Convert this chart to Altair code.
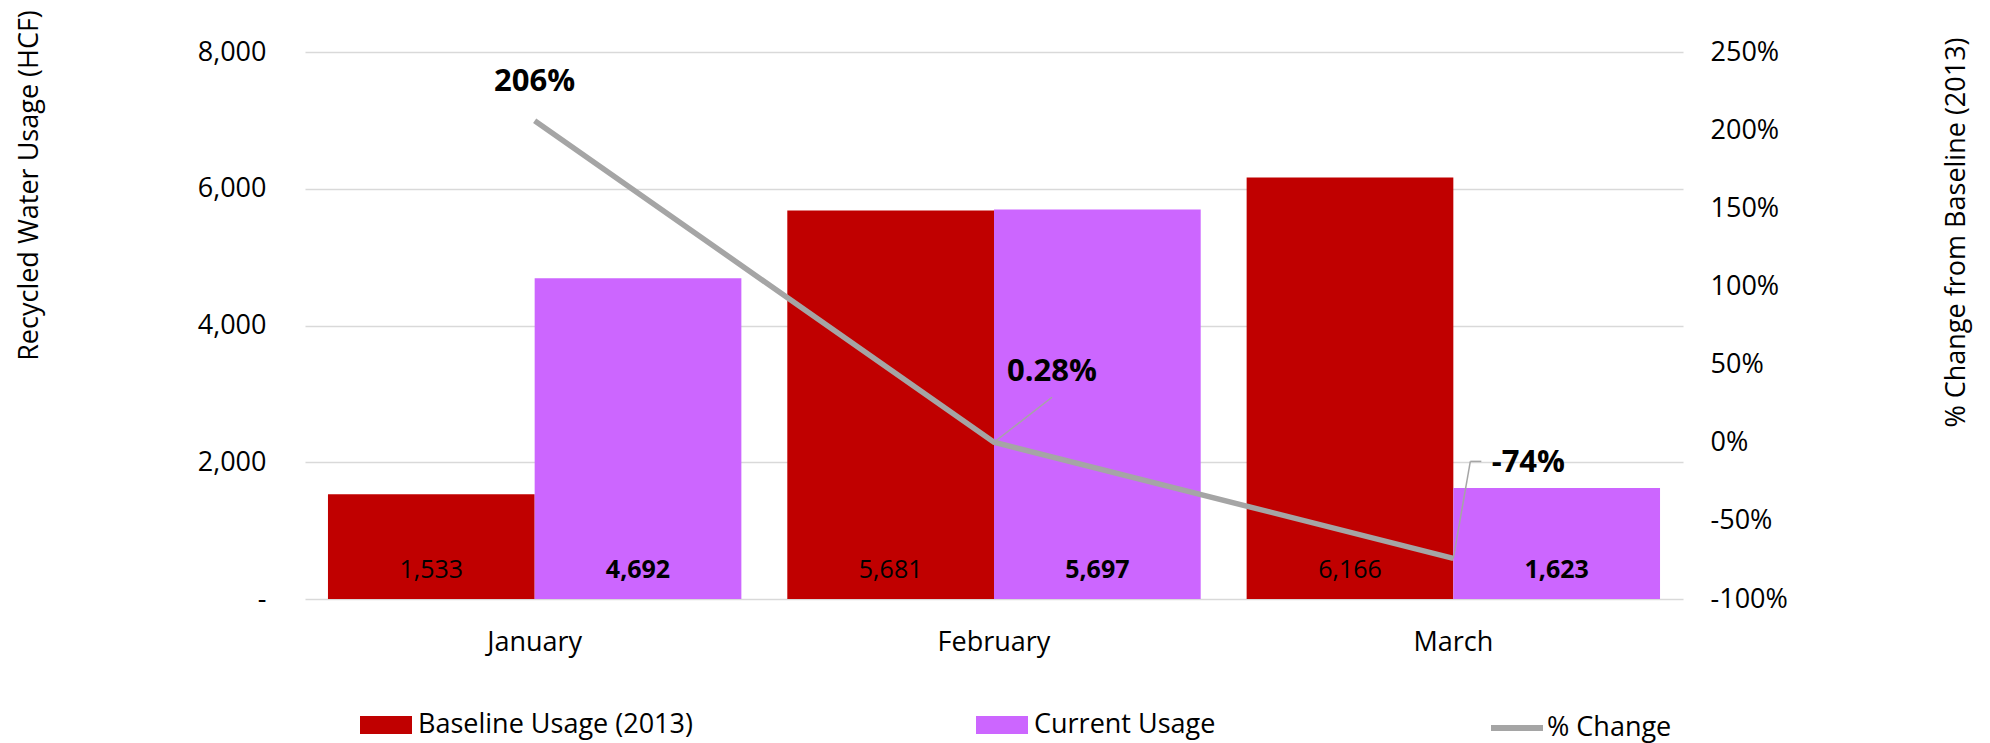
import altair as alt
import pandas as pd

FONT = "Open Sans"

months = ["January", "February", "March"]
series_names = ["Baseline Usage (2013)", "Current Usage"]
baseline = [1533, 5681, 6166]
current = [4692, 5697, 1623]
line_name = "% Change"
pct_change = [206, 0.28, -74]
pct_labels = ["206%", "0.28%", "-74%"]
left_ticks = [0, 2000, 4000, 6000, 8000]
right_ticks = [-100, -50, 0, 50, 100, 150, 200, 250]

bars_df = pd.DataFrame({
    "month": months * 2,
    "series": [series_names[0]] * 3 + [series_names[1]] * 3,
    "value": baseline + current,
})
line_df = pd.DataFrame({
    "month": months,
    "pct": pct_change,
    "label": pct_labels,
    "series": [line_name] * 3,
})

x_enc = alt.X(
    "month:N", sort=months,
    scale=alt.Scale(paddingInner=0.1, paddingOuter=0.05),
    axis=alt.Axis(title=None, labelAngle=0, domain=False, ticks=False,
                  labelPadding=30, labelFontSize=27),
)
xoff = alt.XOffset("series:N", sort=series_names,
                   scale=alt.Scale(paddingInner=0, paddingOuter=0))

y_left = alt.Y(
    "value:Q",
    scale=alt.Scale(domain=[0, 8000], nice=False),
    axis=alt.Axis(
        values=left_ticks,
        labelExpr="datum.value === 0 ? '-' : format(datum.value, ',')",
        title="Recycled Water Usage (HCF)",
        grid=True, gridColor="#D9D9D9", gridWidth=1.5,
        domain=False, ticks=False, labelPadding=39, labelFontSize=27,
        titleX=-276, titleY=133, titleAngle=270, titleAlign="center",
        titleBaseline="middle", titleFontSize=27,
    ),
)

bar_legend = alt.Legend(
    orient="none", legendX=55, legendY=647, direction="horizontal",
    title=None, symbolType="M-1,-0.346H1V0.346H-1Z", symbolSize=2704,
    symbolStrokeWidth=0, symbolOpacity=1, labelFont=FONT, labelFontSize=27,
    labelColor="black", labelOffset=6, columnPadding=283, padding=0,
    labelLimit=600,
)

bars = alt.Chart(bars_df).mark_bar().encode(
    x=x_enc,
    xOffset=xoff,
    y=y_left,
    color=alt.Color("series:N", sort=series_names,
                    scale=alt.Scale(domain=series_names, range=["#C00000", "#CC66FF"]),
                    legend=bar_legend),
)

bar_text_normal = alt.Chart(bars_df).transform_filter(
    alt.datum.series == series_names[0]
).mark_text(font=FONT, fontSize=25, baseline="middle", dy=-29, color="black").encode(
    x=x_enc, xOffset=xoff,
    y=alt.Y(datum=0, type="quantitative"),
    text=alt.Text("value:Q", format=","),
)
bar_text_bold = alt.Chart(bars_df).transform_filter(
    alt.datum.series == series_names[1]
).mark_text(font=FONT, fontSize=25, fontWeight="bold", baseline="middle", dy=-29,
            color="black").encode(
    x=x_enc, xOffset=xoff,
    y=alt.Y(datum=0, type="quantitative"),
    text=alt.Text("value:Q", format=","),
)

left = alt.layer(bars, bar_text_normal, bar_text_bold)

y_right = alt.Y(
    "pct:Q",
    scale=alt.Scale(domain=[-100, 250], nice=False),
    axis=alt.Axis(
        orient="right", values=right_ticks, labelExpr="datum.value + '%'",
        title="% Change from Baseline (2013)", grid=False, domain=False,
        ticks=False, labelPadding=27, labelFontSize=27, labelAlign="left",
        titleX=273, titleY=180, titleAngle=270, titleAlign="center",
        titleBaseline="middle", titleFontSize=27,
    ),
)

line_legend = alt.Legend(
    orient="none", legendX=1183, legendY=647, title=None,
    symbolType="stroke", symbolSize=2704, symbolStrokeWidth=6,
    labelFont=FONT, labelFontSize=27, labelColor="black", labelOffset=1,
    padding=0, labelLimit=600,
)

line = alt.Chart(line_df).mark_line(strokeWidth=5.5).encode(
    x=x_enc,
    y=y_right,
    stroke=alt.Stroke("series:N", scale=alt.Scale(domain=[line_name], range=["#A5A5A5"]),
                      legend=line_legend),
)

label_offsets = {"January": (0, -39), "February": (58, -70), "March": (75, -95)}
line_labels = []
for m in months:
    dx, dy = label_offsets[m]
    line_labels.append(
        alt.Chart(line_df).transform_filter(alt.datum.month == m).mark_text(
            font=FONT, fontSize=31, fontWeight="bold", baseline="middle",
            align="center", dx=dx, dy=dy, color="black",
        ).encode(x=x_enc, y=alt.Y("pct:Q"), text="label:N")
    )

leader_feb = alt.Chart(line_df).transform_filter(alt.datum.month == "February").mark_rule(
    color="#A5A5A5", strokeWidth=1.5, x2Offset=58, y2Offset=-45,
).encode(x=x_enc, x2="month:N", y=alt.Y("pct:Q"), y2="pct:Q")

leader_mar1 = alt.Chart(line_df).transform_filter(alt.datum.month == "March").mark_rule(
    color="#A5A5A5", strokeWidth=1.5, x2Offset=17, y2Offset=-97,
).encode(x=x_enc, x2="month:N", y=alt.Y("pct:Q"), y2="pct:Q")

leader_mar2 = alt.Chart(line_df).transform_filter(alt.datum.month == "March").mark_rule(
    color="#A5A5A5", strokeWidth=1.5, xOffset=17, yOffset=-97, x2Offset=28, y2Offset=-97,
).encode(x=x_enc, x2="month:N", y=alt.Y("pct:Q"), y2="pct:Q")

right = alt.layer(line, leader_feb, leader_mar1, leader_mar2, *line_labels)

chart = alt.layer(left, right).resolve_scale(
    y="independent", color="independent"
).properties(
    width=1378, height=547,
    autosize=alt.AutoSizeParams(type="none"),
    padding={"left": 305, "top": 52, "right": 307, "bottom": 144},
    background="white",
).configure_view(stroke=None).configure_axis(
    labelFont=FONT, titleFont=FONT, labelColor="black", titleColor="black",
    titleFontWeight="normal",
)

chart.save("out.html", embed_options={"renderer": "svg", "actions": False})
